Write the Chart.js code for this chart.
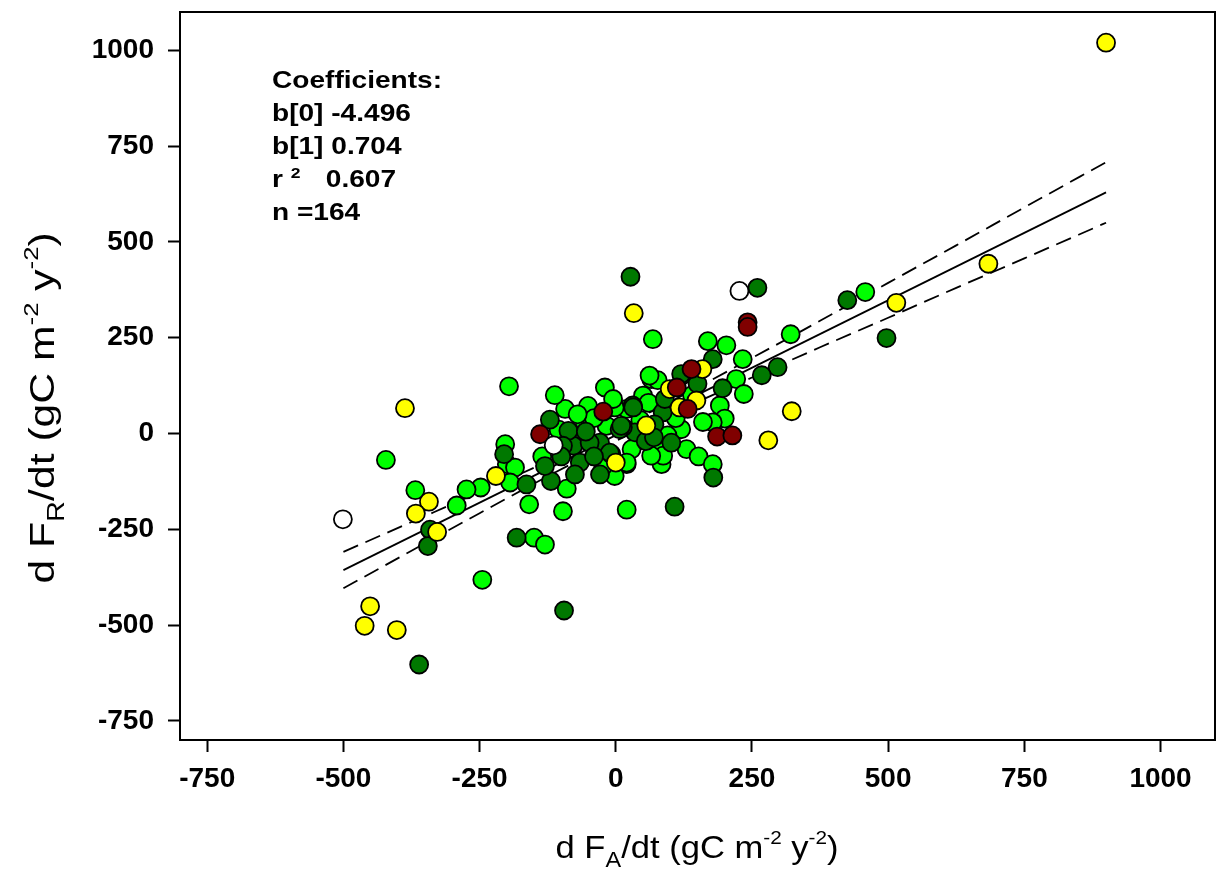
<!DOCTYPE html>
<html>
<head>
<meta charset="utf-8">
<script src="https://cdn.jsdelivr.net/npm/chart.js@4.4.1/dist/chart.umd.min.js"></script>
<style>
  html, body { margin: 0; padding: 0; background: #fff; }
  #wrap { width: 1217px; height: 873px; }
</style>
</head>
<body>
<div id="wrap"><canvas id="chart" width="1217" height="873"></canvas></div>
<script>
// [dFA/dt, dFR/dt] pairs, one array per site group
const lightGreenPts = [
  [458, 369], [321, 259], [68, 246], [169, 241], [203, 230], [233, 194], [221, 142], [235, 103],
  [65, 142], [77, 139], [50, 99], [191, 73], [200, 39], [178, 29], [120, 11], [130, -41],
  [152, -60], [178, -80], [20, -199], [84, -80], [77, -45], [20, -80], [-203, -28], [-200, -80],
  [-185, -89], [-194, -128], [-248, -141], [-274, -146], [-292, -188], [-159, -185], [-150, -272], [-130, -290],
  [-97, -203], [-90, -144], [-93, 64], [-57, 20], [-2, -111], [-17, 20], [-48, 47], [-51, 72],
  [20, 64], [-112, 100], [-20, 120], [-2, 68], [62, 151], [87, -58], [29, -41], [-23, -85],
  [20, -76], [65, -58], [-422, -69], [-368, -148], [-245, -382], [-196, 123], [-5, 90], [-40, 40],
  [45, 35], [95, -5], [110, 40], [-70, 50], [140, 100], [60, 80], [-135, -60], [-105, 10], [160, 30]
];
const darkGreenPts = [
  [425, 348], [497, 249], [297, 173], [268, 152], [260, 380], [27, 409], [178, 194], [122, 152],
  [196, 118], [31, 73], [86, 55], [179, -115], [108, -191], [102, -24], [35, 3], [13, 16],
  [71, 24], [-205, -54], [-164, -133], [-182, -272], [-119, -124], [-130, -85], [-121, 36], [-84, 4],
  [-63, -15], [-78, -32], [-66, -76], [-75, -107], [-29, -107], [-29, -24], [-8, -54], [32, 68],
  [7, 11], [120, 155], [-48, -24], [10, 20], [-87, 7], [-97, -32], [-11, -50], [-341, -251],
  [-345, -294], [-361, -603], [-95, -462], [55, -20], [-40, -60], [150, 130], [90, 90], [-100, -60],
  [-55, 5], [70, -10]
];
const yellowPts = [
  [900, 1020], [684, 443], [515, 341], [323, 58], [280, -18], [33, 314], [159, 168], [99, 116],
  [148, 86], [117, 68], [56, 21], [0, -76], [-220, -111], [-387, 66], [-343, -178], [-367, -209],
  [-328, -257], [-451, -451], [-461, -502], [-402, -513]
];
const darkRedPts = [
  [242, 290], [242, 278], [139, 168], [112, 120], [132, 64], [186, -8], [214, -5], [-139, -2], [-23, 57]
];
const whitePts = [[227, 372], [-114, -31], [-501, -224]];

// regression line and 95% band
const fitX = [-500, 900];
const fitY = [-356.5, 629.1];
const bandX = [-500, -375, -250, -125, 0, 125, 250, 375, 500, 625, 750, 900];
const bandUpper = [-309, -231, -153, -73, 11, 101, 197, 294, 393, 491, 590, 708];
const bandLower = [-404, -306, -208, -112, -20, 66, 146, 225, 302, 380, 457, 550];

const xTicks = [-750, -500, -250, 0, 250, 500, 750, 1000];
const yTicks = [-750, -500, -250, 0, 250, 500, 750, 1000];

const coefLines = ['Coefficients:', 'b[0] -4.496', 'b[1] 0.704', null, 'n =164'];

const FONT = "'Liberation Sans', Arial, sans-serif";

function pts(arr) { return arr.map(p => ({ x: p[0], y: p[1] })); }

function dots(arr, color, order) {
  return {
    data: pts(arr), backgroundColor: color, borderColor: '#000', borderWidth: 1.8,
    pointRadius: 9, order: order
  };
}

function curve(xs, ys, dash) {
  return {
    data: xs.map((x, i) => ({ x: x, y: ys[i] })), showLine: true, pointRadius: 0,
    borderColor: '#000', borderWidth: 1.8, borderDash: dash, fill: false,
    cubicInterpolationMode: 'monotone', order: 20
  };
}

// draws text with sub/superscripts, parts = [[text, 'n'|'sub'|'sup'], ...]
function rich(ctx, parts, size, draw) {
  let x = 0;
  parts.forEach(p => {
    let s = size, dy = 0;
    if (p[1] === 'sub') { s = size * 0.68; dy = size * 0.28; }
    if (p[1] === 'sup') { s = size * 0.6; dy = -size * 0.45; }
    ctx.font = s + 'px ' + FONT;
    if (draw) ctx.fillText(p[0], x, dy);
    x += ctx.measureText(p[0]).width;
  });
  return x;
}

const extras = {
  id: 'extras',
  afterDraw(chart) {
    const { ctx, chartArea: a } = chart;
    ctx.save();
    ctx.strokeStyle = '#000';
    ctx.lineWidth = 2;
    ctx.strokeRect(a.left, a.top, a.right - a.left, a.bottom - a.top);

    // coefficients block
    ctx.fillStyle = '#000';
    ctx.textBaseline = 'alphabetic';
    ctx.textAlign = 'left';
    const base = [88, 121, 154, 187, 220];
    coefLines.forEach((t, i) => {
      ctx.save();
      ctx.translate(272, base[i]);
      ctx.scale(1.17, 1);
      ctx.font = 'bold 24px ' + FONT;
      if (t) {
        ctx.fillText(t, 0, 0);
      } else {
        ctx.fillText('r', 0, 0);
        ctx.font = 'bold 15px ' + FONT;
        ctx.fillText('2', 16, -9);
        ctx.font = 'bold 24px ' + FONT;
        ctx.fillText('0.607', 46, 0);
      }
      ctx.restore();
    });

    // axis titles
    const xt = [['d F', 'n'], ['A', 'sub'], ['/dt (gC m', 'n'], ['-2', 'sup'], [' y', 'n'], ['-2', 'sup'], [')', 'n']];
    const yt = [['d F', 'n'], ['R', 'sub'], ['/dt (gC m', 'n'], ['-2', 'sup'], [' y', 'n'], ['-2', 'sup'], [')', 'n']];
    ctx.save();
    ctx.translate(697, 858);
    ctx.scale(1.08, 1);
    let w = rich(ctx, xt, 32, false);
    ctx.translate(-w / 2, 0);
    rich(ctx, xt, 32, true);
    ctx.restore();

    ctx.save();
    ctx.translate(54, 408);
    ctx.rotate(-Math.PI / 2);
    ctx.scale(1.22, 1);
    w = rich(ctx, yt, 35, false);
    ctx.translate(-w / 2, 0);
    rich(ctx, yt, 35, true);
    ctx.restore();

    ctx.restore();
  }
};

function axis(ticks, fit) {
  return {
    type: 'linear', min: -800, max: 1100,
    afterBuildTicks: s => { s.ticks = ticks.map(v => ({ value: v })); },
    afterFit: fit,
    grid: { drawOnChartArea: false, drawTicks: true, tickLength: 12, tickColor: '#000', tickWidth: 2 },
    border: { display: true, color: '#000', width: 2 },
    ticks: {
      autoSkip: false, maxRotation: 0, color: '#000',
      font: { family: FONT, size: 28, weight: 'bold' },
      callback: v => String(v)
    }
  };
}

const xAxis = axis(xTicks, s => { s.height = 133; s.paddingLeft = 0; s.paddingRight = 0; });
xAxis.ticks.padding = 10;
const yAxis = axis(yTicks, s => { s.width = 180; s.paddingTop = 0; s.paddingBottom = 0; });
yAxis.ticks.padding = 14;

new Chart(document.getElementById('chart'), {
  type: 'scatter',
  data: {
    datasets: [
      dots(whitePts, '#ffffff', 1),
      dots(darkRedPts, '#800000', 2),
      dots(yellowPts, '#ffff00', 3),
      dots(darkGreenPts, '#007800', 4),
      dots(lightGreenPts, '#00ff00', 5),
      curve(fitX, fitY, []),
      curve(bandX, bandUpper, [16, 8]),
      curve(bandX, bandLower, [16, 8])
    ]
  },
  options: {
    responsive: false,
    animation: false,
    layout: { autoPadding: false, padding: { top: 12, right: 2, left: 0, bottom: 0 } },
    plugins: { legend: { display: false }, tooltip: { enabled: false } },
    scales: { x: xAxis, y: yAxis }
  },
  plugins: [extras]
});
</script>
</body>
</html>
